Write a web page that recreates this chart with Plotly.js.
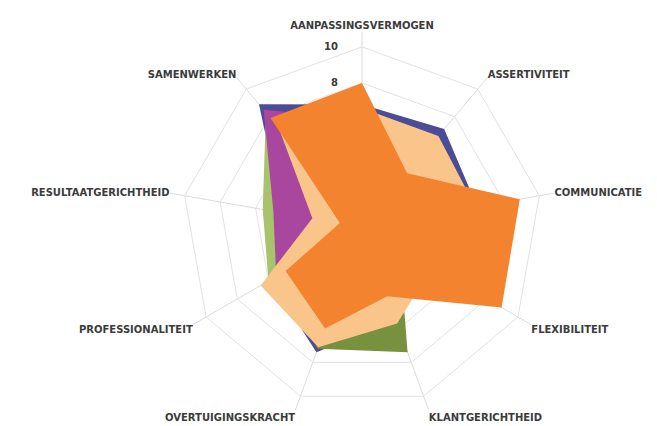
<!DOCTYPE html>
<html>
<head>
<meta charset="utf-8">
<script src="https://cdn.plot.ly/plotly-3.0.1.min.js"></script>
<style>
  html, body { margin: 0; padding: 0; background: #ffffff; }
  #chart { width: 657px; height: 426px; }
</style>
</head>
<body>
<div id="chart"></div>
<script>
var categories = ["AANPASSINGSVERMOGEN", "ASSERTIVITEIT", "COMMUNICATIE", "FLEXIBILITEIT",
  "KLANTGERICHTHEID", "OVERTUIGINGSKRACHT", "PROFESSIONALITEIT", "RESULTAATGERICHTHEID", "SAMENWERKEN"];

var seriesNavy    = [6.8, 7.1, 6.5, 4.0, 5.5, 7.4, 5.9, 4.5, 8.9];
var seriesGreen   = [6.0, 5.5, 6.0, 4.0, 5.0, 6.0, 6.0, 5.6, 8.3];
var seriesOlive   = [6.0, 5.5, 6.0, 2.4, 7.4, 7.2, 5.5, 4.5, 6.0];
var seriesMagenta = [6.0, 5.5, 6.0, 4.0, 5.0, 6.0, 5.5, 5.0, 8.5];
var seriesPeach   = [6.6, 6.6, 6.4, 4.5, 5.7, 7.1, 6.5, 2.8, 7.2];
var seriesOrange  = [8.0, 3.9, 8.9, 8.95, 4.1, 6.0, 4.9, 1.25, 7.9];

var radialTicks = [0, 2, 4, 6, 8, 10];
var radialTickText = ["0", "2", "4", "6", "8", "10"];

var series = [
  {name: "Reeks 1", values: seriesNavy,    color: "#4b4b96"},
  {name: "Reeks 2", values: seriesGreen,   color: "#a8c36c"},
  {name: "Reeks 3", values: seriesOlive,   color: "#77913e"},
  {name: "Reeks 4", values: seriesMagenta, color: "#a9479f"},
  {name: "Reeks 5", values: seriesPeach,   color: "#f9c58b"},
  {name: "Reeks 6", values: seriesOrange,  color: "#f4832f"}
];

var traces = series.map(function (s) {
  return {
    type: "scatterpolar",
    r: s.values,
    theta: categories,
    name: s.name,
    fill: "toself",
    fillcolor: s.color,
    mode: "lines",
    line: {width: 0, color: s.color},
    hoverinfo: "skip"
  };
});

var layout = {
  width: 657,
  height: 426,
  margin: {l: 0, r: 0, t: 0, b: 0},
  paper_bgcolor: "#ffffff",
  showlegend: false,
  font: {family: "DejaVu Sans", size: 10, color: "#3b3b3b"},
  polar: {
    domain: {x: [0.2542, 0.8478], y: [0.0094, 0.9249]},
    bgcolor: "#ffffff",
    gridshape: "linear",
    angularaxis: {
      direction: "clockwise",
      rotation: 90,
      showline: false,
      showgrid: true,
      gridcolor: "#dcdcdc",
      gridwidth: 1,
      ticks: "",
      tickfont: {family: "DejaVu Sans", size: 10, color: "#3b3b3b", weight: "bold"}
    },
    radialaxis: {
      range: [0, 10.83],
      angle: 90,
      side: "counterclockwise",
      tickangle: 90,
      tickvals: radialTicks,
      ticktext: radialTickText,
      showline: false,
      ticks: "outside",
      ticklen: 20,
      tickcolor: "rgba(0,0,0,0)",
      showgrid: true,
      gridcolor: "#e2e2e2",
      gridwidth: 1,
      layer: "below traces",
      tickfont: {family: "DejaVu Sans", size: 10, color: "#3b3b3b", weight: "bold"}
    }
  }
};

Plotly.newPlot("chart", traces, layout, {displayModeBar: false, staticPlot: true});
</script>
</body>
</html>
